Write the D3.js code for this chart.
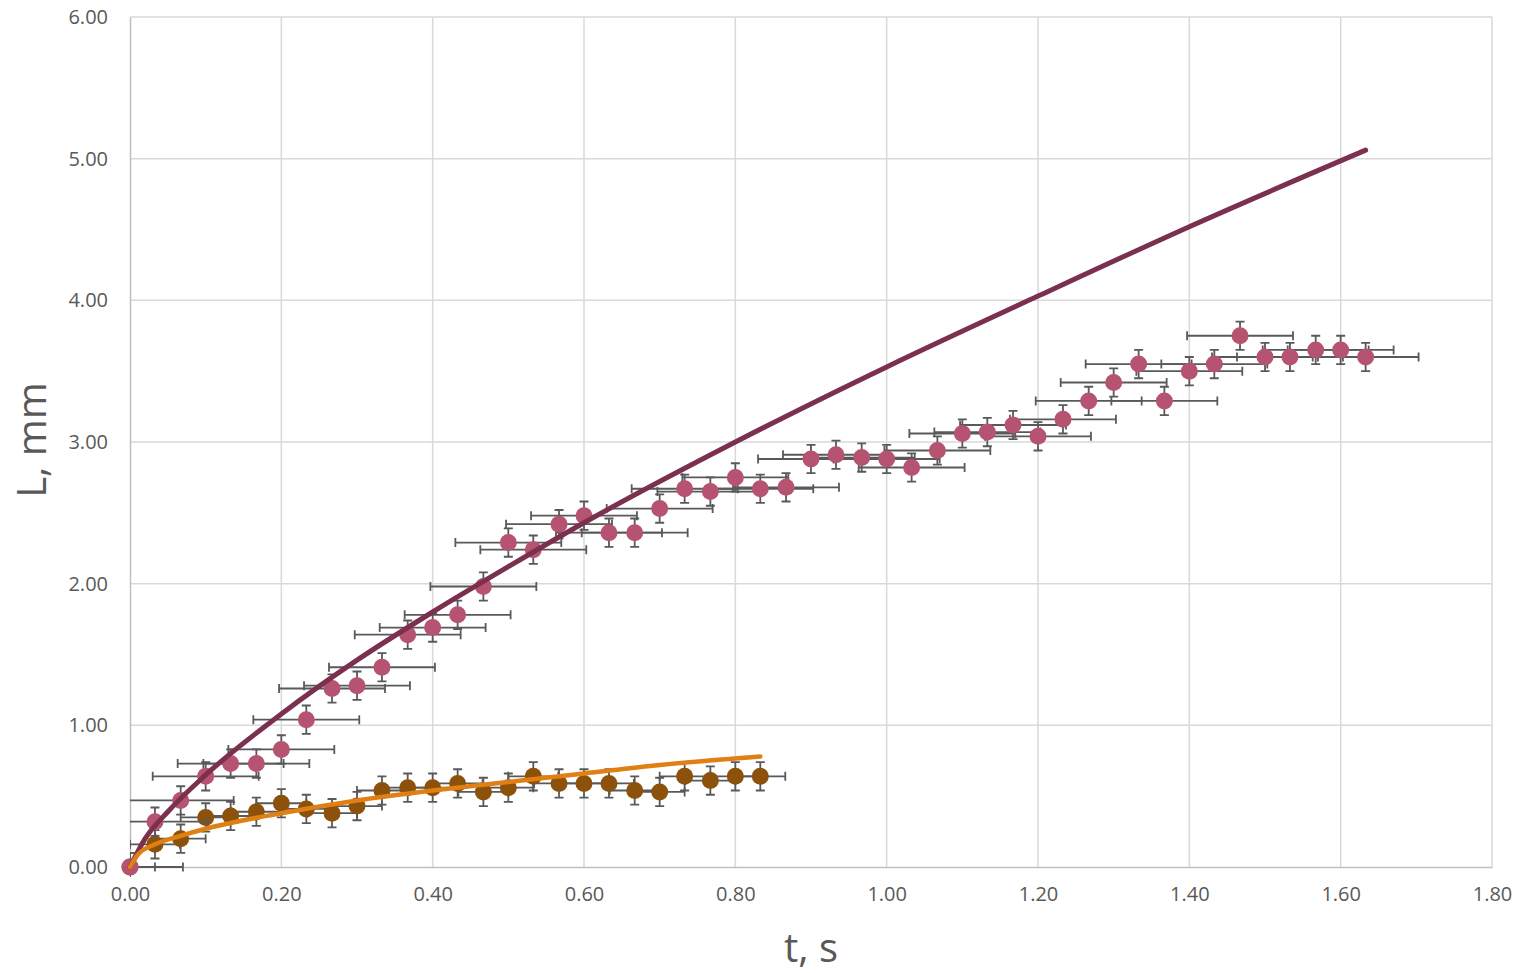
<!DOCTYPE html>
<html>
<head>
<meta charset="utf-8">
<script src="https://cdn.jsdelivr.net/npm/d3@7"></script>
<style>
  html, body { margin: 0; padding: 0; background: #fff; }
  svg { display: block; }
  text { font-family: "Open Sans", "DejaVu Sans", sans-serif; fill: #595959; }
</style>
</head>
<body>
<div id="chart"></div>
<script>
// temps (s) des mesures, pas de 1/30 s
const tPink = [0, 0.033, 0.067, 0.1, 0.133, 0.167, 0.2, 0.233, 0.267, 0.3, 0.333, 0.367, 0.4, 0.433, 0.467,
  0.5, 0.533, 0.567, 0.6, 0.633, 0.667, 0.7, 0.733, 0.767, 0.8, 0.833, 0.867, 0.9, 0.933, 0.967,
  1.0, 1.033, 1.067, 1.1, 1.133, 1.167, 1.2, 1.233, 1.267, 1.3, 1.333, 1.367, 1.4, 1.433, 1.467,
  1.5, 1.533, 1.567, 1.6, 1.633];
const lPink = [0, 0.32, 0.47, 0.64, 0.73, 0.73, 0.83, 1.04, 1.26, 1.28, 1.41, 1.64, 1.69, 1.78, 1.98,
  2.29, 2.24, 2.42, 2.48, 2.36, 2.36, 2.53, 2.67, 2.65, 2.75, 2.67, 2.68, 2.88, 2.91, 2.89,
  2.88, 2.82, 2.94, 3.06, 3.07, 3.12, 3.04, 3.16, 3.29, 3.42, 3.55, 3.29, 3.50, 3.55, 3.75,
  3.60, 3.60, 3.65, 3.65, 3.60];

const tBrown = [0, 0.033, 0.067, 0.1, 0.133, 0.167, 0.2, 0.233, 0.267, 0.3, 0.333, 0.367, 0.4, 0.433, 0.467,
  0.5, 0.533, 0.567, 0.6, 0.633, 0.667, 0.7, 0.733, 0.767, 0.8, 0.833];
const lBrown = [0, 0.16, 0.20, 0.35, 0.36, 0.39, 0.45, 0.41, 0.38, 0.43, 0.54, 0.56, 0.56, 0.59, 0.53,
  0.56, 0.64, 0.59, 0.59, 0.59, 0.54, 0.53, 0.64, 0.61, 0.64, 0.64];

// erreurs
const errXPink = 0.07;
const errXBrown = 0.033;
const errY = 0.1;

// courbes d'ajustement
const tFitPink = [0, 0.02, 0.05, 0.1, 0.2, 0.3, 0.4, 0.5, 0.6, 0.8, 1.0, 1.2, 1.4, 1.633];
const lFitPink = [0, 0.20, 0.39, 0.65, 1.08, 1.46, 1.80, 2.12, 2.43, 3.00, 3.53, 4.03, 4.52, 5.06];
const tFitBrown = [0, 0.01, 0.033, 0.067, 0.1, 0.2, 0.3, 0.4, 0.5, 0.6, 0.7, 0.833];
const lFitBrown = [0, 0.085, 0.16, 0.22, 0.27, 0.38, 0.47, 0.54, 0.60, 0.66, 0.72, 0.78];

const xTicks = [0, 0.2, 0.4, 0.6, 0.8, 1.0, 1.2, 1.4, 1.6, 1.8];
const yTicks = [0, 1, 2, 3, 4, 5, 6];

const width = 1517, height = 973;
const plot = { left: 130, right: 1492, top: 17, bottom: 867 };

const svg = d3.select("#chart").append("svg")
  .attr("width", width)
  .attr("height", height);

const echelleX = d3.scaleLinear().domain([0, 1.8]).range([plot.left, plot.right]);
const echelleY = d3.scaleLinear().domain([0, 6]).range([plot.bottom, plot.top]);

svg.append("clipPath").attr("id", "zone")
  .append("rect")
  .attr("x", plot.left).attr("y", plot.top - 10)
  .attr("width", plot.right - plot.left).attr("height", plot.bottom - plot.top + 20);

// grille
const grille = svg.append("g");
grille.selectAll(".gx").data(xTicks.slice(1)).join("line")
  .attr("x1", d => echelleX(d)).attr("x2", d => echelleX(d))
  .attr("y1", plot.top).attr("y2", plot.bottom)
  .attr("stroke", "#d9d9d9").attr("stroke-width", 1.5);
grille.selectAll(".gy").data(yTicks.slice(1)).join("line")
  .attr("x1", plot.left).attr("x2", plot.right)
  .attr("y1", d => echelleY(d)).attr("y2", d => echelleY(d))
  .attr("stroke", "#d9d9d9").attr("stroke-width", 1.5);

// axes
const axeX = d3.axisBottom(echelleX).tickValues(xTicks).tickFormat(d3.format(".2f")).tickSize(0).tickPadding(20);
const axeY = d3.axisLeft(echelleY).tickValues(yTicks).tickFormat(d3.format(".2f")).tickSize(0).tickPadding(22);

const gX = svg.append("g").attr("transform", "translate(0," + plot.bottom + ")").call(axeX);
gX.select(".domain").attr("stroke", "#bfbfbf").attr("stroke-width", 1.5);
gX.selectAll("text").style("font-size", "20px").attr("fill", "#595959");

const gY = svg.append("g").attr("transform", "translate(" + plot.left + ",0)").call(axeY);
gY.select(".domain").attr("stroke", "#bfbfbf").attr("stroke-width", 1.5);
gY.selectAll("text").style("font-size", "20px").attr("fill", "#595959");

// titres
svg.append("text")
  .attr("transform", "translate(46,440) rotate(-90)")
  .attr("text-anchor", "middle")
  .style("font-size", "40px")
  .text("L, mm");
svg.append("text")
  .attr("x", 811).attr("y", 962)
  .attr("text-anchor", "middle")
  .style("font-size", "40px")
  .text("t, s");

// séries avec barres d'erreur
const couche = svg.append("g");

function dessinerSerie(ts, ls, errX, couleur) {
  const pts = ts.map((t, i) => ({ t: t, l: ls[i] }));
  const g = couche.append("g");
  const barres = g.append("g").attr("clip-path", "url(#zone)")
    .attr("stroke", "#595959").attr("stroke-width", 1.8).attr("fill", "none");
  const cap = 4.5;
  pts.forEach(d => {
    const cx = echelleX(d.t), cy = echelleY(d.l);
    const x0 = echelleX(d.t - errX), x1 = echelleX(d.t + errX);
    const y0 = echelleY(d.l - errY), y1 = echelleY(d.l + errY);
    barres.append("path").attr("d",
      "M" + x0 + "," + cy + "H" + x1 +
      "M" + x0 + "," + (cy - cap) + "V" + (cy + cap) +
      "M" + x1 + "," + (cy - cap) + "V" + (cy + cap) +
      "M" + cx + "," + y0 + "V" + y1 +
      "M" + (cx - cap) + "," + y0 + "H" + (cx + cap) +
      "M" + (cx - cap) + "," + y1 + "H" + (cx + cap));
  });
  g.selectAll("circle").data(pts).join("circle")
    .attr("cx", d => echelleX(d.t))
    .attr("cy", d => echelleY(d.l))
    .attr("r", 8.5)
    .attr("fill", couleur);
}

dessinerSerie(tBrown, lBrown, errXBrown, "#8c510a");
dessinerSerie(tPink, lPink, errXPink, "#b55370");

// courbes
const ligne = d3.line()
  .x(d => echelleX(d[0]))
  .y(d => echelleY(d[1]))
  .curve(d3.curveMonotoneX);

svg.append("path")
  .datum(tFitPink.map((t, i) => [t, lFitPink[i]]))
  .attr("d", ligne)
  .attr("fill", "none")
  .attr("stroke", "#7b304f")
  .attr("stroke-width", 5)
  .attr("stroke-linecap", "round");

svg.append("path")
  .datum(tFitBrown.map((t, i) => [t, lFitBrown[i]]))
  .attr("d", ligne)
  .attr("fill", "none")
  .attr("stroke", "#e07f13")
  .attr("stroke-width", 4.5)
  .attr("stroke-linecap", "round");
</script>
</body>
</html>
